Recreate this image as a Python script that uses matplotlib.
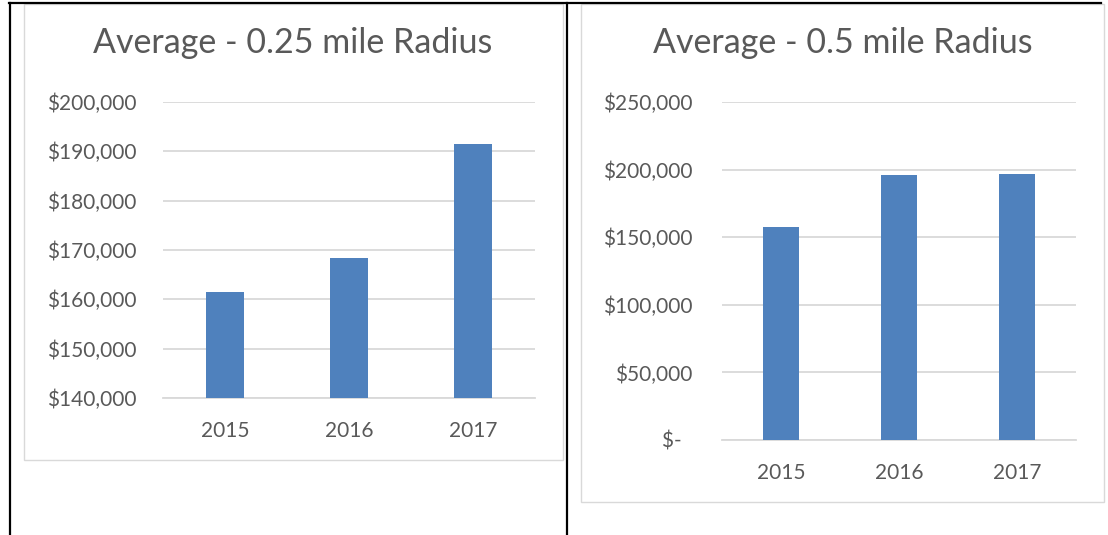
import matplotlib.pyplot as plt
from matplotlib.lines import Line2D
from matplotlib.patches import Rectangle

years = ['2015', '2016', '2017']
avg_quarter_mile = [161500, 168400, 191500]
avg_half_mile = [157800, 196300, 196500]

quarter_ticks = [140000, 150000, 160000, 170000, 180000, 190000, 200000]
half_ticks = [0, 50000, 100000, 150000, 200000, 250000]

W, H = 1108, 535
BAR = '#4F81BD'
GRID = '#D9D9D9'
TEXT = '#595959'

plt.rcParams['font.family'] = ['Lato', 'DejaVu Sans']

fig = plt.figure(figsize=(W / 100, H / 100), dpi=100)


def px_rect(x0, y0, x1, y1):
    # pixel box (top-left origin) -> figure fraction rect
    return [x0 / W, 1 - y1 / H, (x1 - x0) / W, (y1 - y0) / H]


def money(v):
    return '$-  ' if v == 0 else f'${v:,.0f}'


def draw_chart(box, axbox, title, title_x, values, ticks, ypad):
    # light grey frame around each chart
    fig.patches.append(Rectangle((box[0] / W, 1 - box[3] / H),
                                 (box[2] - box[0]) / W, (box[3] - box[1]) / H,
                                 transform=fig.transFigure, fill=False,
                                 edgecolor=GRID, lw=1.0))
    fig.text(title_x / W, 1 - 53 / H, title, ha='center', va='baseline',
             fontsize=24.5, color=TEXT)

    ax = fig.add_axes(px_rect(*axbox))
    ax.bar(range(len(years)), values, width=0.31, color=BAR, zorder=3)
    ax.set_xlim(-0.5, len(years) - 0.5)
    ax.set_ylim(ticks[0], ticks[-1])
    ax.set_xticks(range(len(years)))
    ax.set_xticklabels(years)
    ax.set_yticks(ticks)
    ax.set_yticklabels([money(t) for t in ticks])
    ax.tick_params(axis='both', length=0, labelsize=15, labelcolor=TEXT)
    ax.tick_params(axis='y', pad=ypad)
    ax.tick_params(axis='x', pad=16.5)
    ax.grid(axis='y', color=GRID, lw=1.3, zorder=0)
    ax.set_axisbelow(True)
    for side in ['top', 'right', 'left']:
        ax.spines[side].set_visible(False)
    ax.spines['bottom'].set_color(GRID)
    ax.spines['bottom'].set_linewidth(1.3)
    return ax


draw_chart((24, 4, 563, 460), (163, 102, 535, 398),
           'Average - 0.25 mile Radius', 293, avg_quarter_mile, quarter_ticks, 19)
draw_chart((581, 4, 1104, 502), (722, 102, 1076, 440),
           'Average - 0.5 mile Radius', 843, avg_half_mile, half_ticks, 21)

# table cell borders
for xs, ys in [((10, 10), (3, 535)), ((567, 567), (3, 535)), ((9, 1101), (3, 3))]:
    fig.add_artist(Line2D([x / W for x in xs], [1 - y / H for y in ys],
                          transform=fig.transFigure, color='black', lw=1.6))

fig.savefig('out.png', dpi=100)
